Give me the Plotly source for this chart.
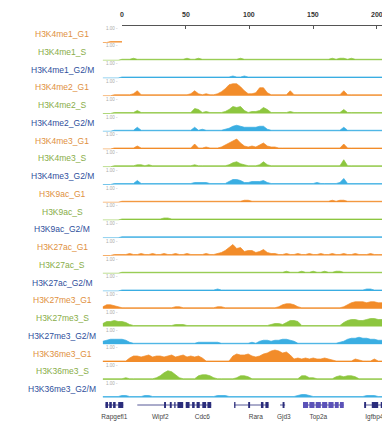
import plotly.graph_objects as go

# ---------------- data ----------------
positions = [-15 + 3 * k for k in range(75)]  # genomic bins (kb), ruler 0..200

track_names = [
    "H3K4me1_G1", "H3K4me1_S", "H3K4me1_G2/M",
    "H3K4me2_G1", "H3K4me2_S", "H3K4me2_G2/M",
    "H3K4me3_G1", "H3K4me3_S", "H3K4me3_G2/M",
    "H3K9ac_G1", "H3K9ac_S", "H3K9ac_G2/M",
    "H3K27ac_G1", "H3K27ac_S", "H3K27ac_G2/M",
    "H3K27me3_G1", "H3K27me3_S", "H3K27me3_G2/M",
    "H3K36me3_G1", "H3K36me3_S", "H3K36me3_G2/M",
]

t01 = [0,0,1,1,1, 1,1,1,1,1, 1,1,1,1,1, 1,1,1,1,1, 1,1,1,1,1, 1,1,1,1,1, 1,2,2,3,3, 2,3,2,2,2, 2,2,1,1,1, 1,1,1,1,1, 1,1,1,1,1, 1,1,1,1,1, 1,1,1,1,1, 1,1,1,1,1, 1,1,1,1,1]
t02 = [0,0,0,0,0, 1,1,1,2,1, 1,1,1,1,1, 1,1,1,1,1, 1,1,2,1,1, 2,1,1,1,1, 1,1,1,1,1, 1,2,1,1,1, 1,1,1,1,1, 1,1,1,1,1, 1,1,1,1,1, 1,1,1,1,1, 2,1,2,2,1, 2,1,1,1,1, 1,1,1,1,1]
t03 = [0,0,0,0,0, 1,1,1,1,1, 1,1,1,1,1, 1,1,1,1,1, 1,1,1,1,1, 1,1,1,1,1, 1,1,1,1,2, 1,1,2,1,1, 1,1,1,1,1, 1,1,1,1,1, 1,1,1,1,1, 1,1,1,1,1, 1,1,1,1,1, 1,1,1,1,1, 1,1,1,1,1]
t04 = [0,0,0,1,1, 1,1,1,2,5, 1,1,1,1,1, 1,1,1,1,1, 1,1,1,2,5, 2,1,2,1,1, 2,4,7,11,12, 12,9,5,2,2, 3,8,8,3,1, 1,1,1,1,5, 1,1,1,1,1, 1,1,1,1,1, 1,1,1,5,1, 1,1,1,1,1, 1,1,1,1,1]
t05 = [0,0,0,1,1, 1,1,1,1,3, 1,1,1,1,1, 1,1,1,1,1, 1,1,1,1,5, 4,1,2,1,1, 1,1,2,4,7, 6,7,3,1,2, 2,3,6,4,1, 1,1,1,1,2, 1,1,1,1,1, 1,1,1,1,1, 1,1,1,4,1, 1,1,1,1,1, 1,1,1,1,1]
t06 = [0,0,0,1,1, 1,1,1,1,4, 1,1,1,1,1, 1,1,1,1,1, 1,1,1,1,4, 1,2,1,1,1, 1,1,2,3,5, 6,5,4,4,4, 4,5,5,2,1, 1,1,1,1,1, 1,1,1,1,1, 1,1,1,1,1, 1,1,1,4,1, 1,1,1,1,1, 1,1,1,1,1]
t07 = [0,0,0,1,1, 1,1,1,1,3, 1,1,1,1,1, 1,1,1,1,1, 1,1,1,1,5, 1,1,2,1,1, 1,2,4,6,8, 10,6,3,2,3, 2,4,6,3,2, 2,1,1,1,1, 1,1,1,1,1, 1,1,1,1,1, 1,1,1,5,1, 1,1,1,1,1, 1,1,1,1,1]
t08 = [0,0,0,1,1, 1,1,1,1,2, 2,1,2,1,1, 1,1,1,1,1, 1,1,1,1,2, 1,1,1,1,1, 1,1,1,2,4, 5,3,2,1,1, 1,2,5,2,1, 1,1,1,1,1, 1,1,1,1,1, 1,1,1,1,1, 1,1,1,7,1, 1,1,1,1,1, 1,1,1,1,1]
t09 = [0,0,0,1,1, 1,1,1,1,4, 1,1,1,1,1, 1,1,1,1,1, 1,1,1,1,2, 2,2,2,1,1, 1,1,1,3,5, 5,4,2,2,3, 3,3,4,2,1, 1,1,1,1,1, 1,1,1,1,1, 1,2,1,1,1, 1,1,2,6,1, 1,1,1,1,1, 1,1,1,1,1]
t10 = [0,0,0,0,0, 1,1,1,1,1, 1,1,1,1,1, 1,1,1,1,1, 1,1,1,1,1, 1,1,1,1,1, 1,1,1,1,1, 1,1,2,2,1, 1,1,1,1,1, 1,1,1,1,1, 1,1,1,1,1, 1,1,1,1,1, 2,1,2,2,1, 1,1,1,1,1, 1,1,1,1,1]
t11 = [0,0,0,0,0, 1,1,1,1,1, 1,1,1,1,1, 1,2,2,1,1, 1,1,1,1,1, 1,1,1,1,1, 1,1,1,1,1, 1,1,1,1,1, 1,1,1,1,1, 1,1,1,1,1, 1,1,1,1,1, 1,1,1,1,1, 1,1,1,1,1, 1,1,1,1,1, 1,1,1,1,1]
t12 = [0,0,0,0,0, 1,1,1,1,1, 1,1,1,1,1, 1,1,1,1,1, 1,1,1,1,1, 1,1,1,1,1, 1,1,1,1,1, 1,1,1,1,1, 1,1,1,1,1, 1,1,1,1,1, 1,1,1,1,1, 1,1,1,1,1, 1,1,1,1,1, 1,1,1,1,1, 1,1,1,1,1]
t13 = [0,0,0,1,1, 1,1,2,1,1, 2,1,1,2,1, 1,2,1,1,2, 1,1,2,1,1, 1,1,2,1,1, 2,3,5,8,11, 7,8,4,5,5, 3,4,6,3,2, 2,1,1,2,1, 1,2,1,1,2, 1,1,2,1,1, 2,1,1,2,1, 1,2,1,1,1, 2,1,1,1,1]
t14 = [0,0,0,0,0, 1,1,1,1,1, 1,1,1,1,1, 1,1,1,1,1, 1,1,1,1,1, 1,1,1,1,1, 1,1,1,1,1, 1,1,1,1,1, 1,1,1,1,1, 1,1,1,2,1, 1,1,2,1,1, 2,1,1,2,1, 1,2,2,1,1, 1,1,1,1,1, 1,1,1,1,1]
t15 = [0,0,0,0,0, 1,1,1,1,1, 1,1,1,1,1, 1,1,1,1,1, 1,1,1,1,1, 1,1,1,1,1, 2,1,1,1,1, 1,1,1,1,1, 1,1,1,1,1, 1,1,1,1,1, 1,1,1,1,1, 1,1,1,1,1, 1,1,1,1,1, 1,1,1,1,2, 2,1,1,1,1]
t16 = [2,4,4,3,2, 1,1,1,1,1, 1,1,1,1,1, 1,1,1,1,2, 2,1,1,1,1, 1,1,1,1,1, 2,2,1,1,1, 1,1,1,1,1, 1,1,1,1,1, 1,2,4,5,5, 4,2,1,1,1, 1,1,1,1,1, 1,1,1,2,4, 6,7,7,7,6, 7,7,6,6,5]
t17 = [3,5,5,6,5, 5,4,2,1,1, 1,1,1,1,1, 1,1,1,1,2, 2,2,1,1,1, 1,1,1,1,1, 1,1,1,1,1, 1,1,1,1,1, 1,1,1,1,2, 3,3,2,4,6, 6,5,1,1,1, 1,1,1,1,1, 1,1,1,4,6, 7,7,6,6,7, 8,8,7,7,6]
t18 = [3,4,5,5,5, 5,4,2,1,1, 1,1,1,1,1, 1,1,1,1,1, 1,1,1,1,1, 2,2,2,2,2, 2,1,1,1,1, 1,1,1,1,2, 1,3,4,4,3, 4,4,5,5,4, 3,1,1,1,1, 1,1,1,1,1, 1,1,2,3,5, 6,6,7,6,6, 5,5,4,4,4]
t19 = [1,1,1,1,1, 1,1,4,6,6, 5,6,7,5,6, 6,5,6,7,5, 6,7,5,6,5, 6,4,1,1,1, 1,1,1,1,6, 8,7,7,8,6, 5,6,8,9,11, 12,11,9,10,7, 3,4,3,4,3, 4,3,3,4,3, 2,1,1,1,1, 1,3,2,1,1, 1,3,1,1,1]
t20 = [1,1,1,1,1, 1,2,1,1,1, 1,1,1,1,2, 4,7,9,8,5, 2,1,1,1,1, 4,5,5,4,2, 1,1,1,1,1, 2,4,4,3,1, 1,1,1,1,1, 1,1,1,1,1, 1,1,4,4,2, 2,1,1,1,1, 1,3,4,3,4, 4,3,1,1,1, 1,1,1,1,1]
t21 = [1,1,1,1,1, 2,2,1,1,1, 1,2,2,1,1, 1,1,1,1,1, 1,1,1,1,1, 1,1,1,1,1, 2,2,2,1,1, 1,1,1,1,1, 1,1,1,1,1, 1,1,1,1,1, 1,2,3,3,2, 1,1,1,1,1, 1,1,1,1,1, 1,1,1,1,2, 2,2,1,1,1]

track_values = [t01, t02, t03, t04, t05, t06, t07, t08, t09, t10, t11,
                t12, t13, t14, t15, t16, t17, t18, t19, t20, t21]

ruler_ticks = [0, 50, 100, 150, 200]
ruler_labels = ["0", "50", "100", "150", "200"]

gene_names = ["Rapgefl1", "Wipf2", "Cdc6", "Rara", "Gjd3", "Top2a", "Igfbp4"]
gene_start = [-13, 12, 50, 88, 124, 142, 190]
gene_end = [1, 48, 70, 115, 128, 174, 206]
gene_label_pos = [-6, 30, 63, 105, 127, 154, 198]
gene_exons = [
    [(-13, -11), (-10, -8), (-7, -5), (-3, 1)],
    [(33, 34.5), (37.5, 39), (41, 42), (43.5, 48)],
    [(50, 53), (55, 57), (58.5, 61), (63, 66), (67, 70)],
    [(88, 89), (99, 100.5), (109, 111), (112.5, 115)],
    [(126, 127.5)],
    [(142, 146), (147, 151), (152, 156), (157, 161), (162, 166), (167, 170), (171, 174)],
    [(190, 191.5), (196, 201), (203, 206)],
]

# ---------------- styling ----------------
W, H = 382, 426
PLOT_LEFT = 102      # px of plot left edge
PLOT_TOP = 25        # px of plot top edge
L = PLOT_LEFT
T = PLOT_TOP
plot_w = W - L
plot_h = H - T
row_h = 17.75


def pxx(px):
    return (px - PLOT_LEFT) / plot_w


def pxy(py):
    return (H - py) / plot_h


fill_col = {"G1": "#f28c2a", "S": "#8dc63f", "G2/M": "#3aaee2"}
label_col = {"G1": "#e09040", "S": "#88ad48", "G2/M": "#2f4f9c"}

fig = go.Figure()
layout = dict(
    width=W, height=H,
    margin=dict(l=L, r=0, t=T, b=0, autoexpand=False),
    paper_bgcolor="white", plot_bgcolor="white",
    showlegend=False,
    font=dict(family="Liberation Sans, Arial, sans-serif"),
    xaxis=dict(range=[-15.7, 204], domain=[0, 1], visible=False, fixedrange=True),
    xaxis2=dict(range=[0, 204], domain=[pxx(122), 1], side="top", anchor="free", position=1,
                showline=True, linecolor="#555", linewidth=1, ticks="inside", ticklen=3,
                tickcolor="#555", tickvals=ruler_ticks, showticklabels=False,
                showgrid=False, zeroline=False, fixedrange=True),
)
annotations = []

# ruler labels
for tv, tl in zip(ruler_ticks, ruler_labels):
    annotations.append(dict(text=tl, xref="x2", yref="paper", x=tv, y=1,
                            xanchor="center", yanchor="bottom", yshift=5, showarrow=False,
                            font=dict(size=7, color="#333", weight="bold")))

for i, (name, vals) in enumerate(zip(track_names, track_values)):
    phase = name.split("_", 1)[1]
    c = fill_col[phase]
    top_px = PLOT_TOP + 0.25 + row_h * i
    bot_px = top_px + row_h
    ykey = "yaxis" if i == 0 else f"yaxis{i + 1}"
    yref = "y" if i == 0 else f"y{i + 1}"
    layout[ykey] = dict(domain=[pxy(bot_px), pxy(top_px)],
                        range=[-0.5, 17.25], visible=False, fixedrange=True, anchor="x")
    fig.add_trace(go.Scatter(x=positions, y=vals, mode="lines", xaxis="x", yaxis=yref,
                             line=dict(color=c, width=0.7), fill="tozeroy", fillcolor=c,
                             hoverinfo="skip"))
    annotations.append(dict(text=name, xref="paper", yref="paper",
                            x=pxx(62), y=pxy((top_px + bot_px) / 2),
                            xanchor="center", yanchor="middle", showarrow=False,
                            font=dict(size=8.5, color=label_col[phase])))
    annotations.append(dict(text="1.00 -", xref="paper", yref="paper",
                            x=pxx(104), y=pxy(top_px + 3),
                            xanchor="left", yanchor="middle", showarrow=False,
                            font=dict(size=4.5, color="#aaaaaa")))

# dummy trace so the ruler axis is drawn
fig.add_trace(go.Scatter(x=[0], y=[None], xaxis="x2", yaxis="y", mode="markers",
                         hoverinfo="skip"))

# gene annotation row
gtop = PLOT_TOP + 0.25 + row_h * 21
layout["yaxis22"] = dict(domain=[0, pxy(gtop)], range=[0, 1], visible=False,
                         fixedrange=True, anchor="x")
gene_col = "#2b2d7c"
ix, iy = [], []
for s, e in zip(gene_start, gene_end):
    ix += [s, e, None]
    iy += [0.75, 0.75, None]
fig.add_trace(go.Scatter(x=ix, y=iy, mode="lines", xaxis="x", yaxis="y22",
                         line=dict(color=gene_col, width=0.8), hoverinfo="skip"))
for gname, exons in zip(gene_names, gene_exons):
    ex, ey = [], []
    for s, e in exons:
        ex += [s, e, None]
        ey += [0.75, 0.75, None]
    col = "#5b52b8" if gname == "Top2a" else gene_col
    fig.add_trace(go.Scatter(x=ex, y=ey, mode="lines", xaxis="x", yaxis="y22",
                             line=dict(color=col, width=6), hoverinfo="skip"))
fig.add_trace(go.Scatter(x=gene_label_pos, y=[0.3] * len(gene_names), text=gene_names,
                         mode="text", xaxis="x", yaxis="y22", cliponaxis=False,
                         textfont=dict(size=6.5, color="#444"), hoverinfo="skip"))

layout["annotations"] = annotations
fig.update_layout(**layout)
# remove the page's default body margin so the figure fills the window exactly
fig.write_html("out.html",
               config={"displayModeBar": False},
               post_script="document.body.style.margin='0';document.body.style.overflow='hidden';")
